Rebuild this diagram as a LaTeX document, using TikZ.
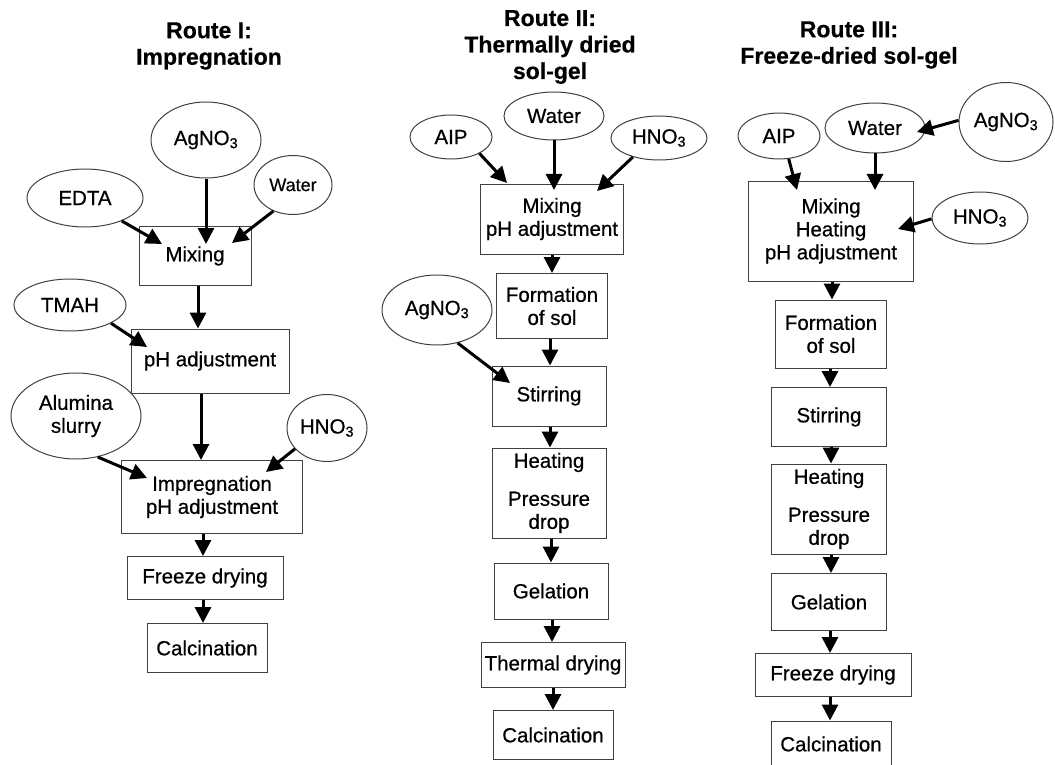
\documentclass[tikz,border=0pt]{standalone}
\usepackage{fontspec}
\setmainfont{Liberation Sans}
\newfontface\nodefont{Liberation Sans}[FakeBold=0.6]
\newfontface\titlefont{Liberation Sans Bold}[FakeBold=0.5]
\usetikzlibrary{arrows.meta,shapes.geometric}
\begin{document}
\begin{tikzpicture}[x=1pt,y=-1pt,
  box/.style={draw=black!75, line width=1pt, rectangle, inner sep=0pt, align=center, font=\nodefont\fontsize{20.5}{23}\selectfont},
  ell/.style={draw=black!75, line width=1pt, ellipse, inner sep=0pt, align=center, font=\nodefont\fontsize{20.5}{23}\selectfont},
  arr/.style={line width=3pt, -{Triangle[length=16pt,width=16pt]}},
  ttl/.style={align=center, font=\titlefont\fontsize{23}{26.5}\selectfont},
]
\useasboundingbox (0,0) rectangle (1055,765);

% Titles
\node[ttl] (t1) at (209,46) {Route I:\\Impregnation};
\node[ttl] (t2) at (550,47) {Route II:\\Thermally dried\\sol-gel};
\node[ttl] (t3) at (849,45) {Route III:\\Freeze-dried sol-gel};

% Route I
\node[ell, minimum width=110, minimum height=76] (ag1) at (206,140) {AgNO\textsubscript{3}};
\node[ell, minimum width=78, minimum height=59, font=\nodefont\fontsize{18}{20}\selectfont] (w1) at (293,185) {Water};
\node[ell, minimum width=116, minimum height=58] (edta) at (85,198) {EDTA};
\node[box, minimum width=112, minimum height=59] (mix1) at (195,256) {Mixing};
\node[ell, minimum width=112, minimum height=52] (tmah) at (70,305) {TMAH};
\node[box, minimum width=158, minimum height=64] (ph1) at (210,361) {pH adjustment};
\node[ell, minimum width=130, minimum height=86] (alu) at (76,416) {Alumina\\slurry};
\node[ell, minimum width=80, minimum height=67] (hn1) at (327,428) {HNO\textsubscript{3}};
\node[box, minimum width=181, minimum height=73] (imp) at (212,497) {Impregnation\\pH adjustment};
\node[box, minimum width=156, minimum height=43] (fd1) at (205,578) {Freeze drying};
\node[box, minimum width=120, minimum height=49] (cal1) at (207,648) {Calcination};

% Route II
\node[ell, minimum width=82, minimum height=44] (aip2) at (451,137) {AIP};
\node[ell, minimum width=100, minimum height=48] (w2) at (554,116) {Water};
\node[ell, minimum width=96, minimum height=44] (hn2) at (659,138) {HNO\textsubscript{3}};
\node[box, minimum width=143, minimum height=70] (mp2) at (552,219) {Mixing\\pH adjustment};
\node[box, minimum width=111, minimum height=65] (fs2) at (552,306) {Formation\\of sol};
\node[ell, minimum width=110, minimum height=70] (ag2) at (437,310) {AgNO\textsubscript{3}};
\node[box, minimum width=114, minimum height=60] (st2) at (549,396) {Stirring};
\node[box, minimum width=114, minimum height=90] (hp2) at (549,493) {Heating\\[15pt]Pressure\\drop};
\node[box, minimum width=114, minimum height=56] (gel2) at (551,591) {Gelation};
\node[box, minimum width=144, minimum height=45] (td2) at (553,665) {Thermal drying};
\node[box, minimum width=120, minimum height=49] (cal2) at (553,735) {Calcination};

% Route III
\node[ell, minimum width=82, minimum height=46] (aip3) at (779,136) {AIP};
\node[ell, minimum width=100, minimum height=50] (w3) at (875,128) {Water};
\node[ell, minimum width=94, minimum height=79] (ag3) at (1006,122) {AgNO\textsubscript{3}};
\node[box, minimum width=165, minimum height=100] (mp3) at (831,231) {Mixing\\Heating\\pH adjustment};
\node[ell, minimum width=96, minimum height=52] (hn3) at (980,218) {HNO\textsubscript{3}};
\node[box, minimum width=111, minimum height=68] (fs3) at (831,334) {Formation\\of sol};
\node[box, minimum width=115, minimum height=59] (st3) at (829,417) {Stirring};
\node[box, minimum width=115, minimum height=90] (hp3) at (829,509) {Heating\\[15pt]Pressure\\drop};
\node[box, minimum width=115, minimum height=57] (gel3) at (829,602) {Gelation};
\node[box, minimum width=156, minimum height=43] (fd3) at (833,675) {Freeze drying};
\node[box, minimum width=120, minimum height=46] (cal3) at (831,744) {Calcination};

% Route I arrows
\draw[arr] (edta.-32) -- ([shift={(-33,-12)}]mix1.center);
\draw[arr] (ag1.south) -- ([shift={(11,-12)}]mix1.center);
\draw[arr] (w1.233) -- ([shift={(37,-13)}]mix1.center);
\draw[arr] (tmah.-24) -- ([shift={(-63,-14)}]ph1.center);
\draw[arr] ([xshift=3]mix1.south) -- ([xshift=3]mix1.south |- ph1.north);
\draw[arr] ([xshift=-9]ph1.south) -- ([xshift=-9]ph1.south |- imp.north);
\draw[arr] (alu.-62) -- ([shift={(-65,-19)}]imp.center);
\draw[arr] (hn1.213) -- ([shift={(54,-25)}]imp.center);
\draw[arr] ([xshift=-2]fd1.north |- imp.south) -- ([xshift=-2]fd1.north);
\draw[arr] ([xshift=-4]cal1.north |- fd1.south) -- ([xshift=-4]cal1.north);

% Route II arrows
\draw[arr] (aip2.-30) -- ([shift={(-45,-36)}]mp2.center);
\draw[arr] (w2.south) -- ([shift={(2,-29)}]mp2.center);
\draw[arr] (hn2.216) -- ([shift={(45,-28)}]mp2.center);
\draw[arr] (mp2.south) -- (mp2.south |- fs2.north);
\draw[arr] ([xshift=1]st2.north |- fs2.south) -- ([xshift=1]st2.north);
\draw[arr] (ag2.-58) -- ([shift={(-39,-13)}]st2.center);
\draw[arr] ([xshift=1]st2.south) -- ([xshift=1]st2.south |- hp2.north);
\draw[arr] ([xshift=2]hp2.south) -- ([xshift=2]hp2.south |- gel2.north);
\draw[arr] ([xshift=1]gel2.south) -- ([xshift=1]gel2.south |- td2.north);
\draw[arr] (td2.south) -- (td2.south |- cal2.north);

% Route III arrows
\draw[arr] (aip3.-67) -- ([shift={(-34,-41)}]mp3.center);
\draw[arr] (w3.south) -- ([shift={(44,-41)}]mp3.center);
\draw[arr] (ag3.178) -- ([shift={(42,4)}]w3.center);
\draw[arr] (hn3.181) -- ([shift={(67,-2)}]mp3.center);
\draw[arr] ([xshift=1]mp3.south) -- ([xshift=1]mp3.south |- fs3.north);
\draw[arr] ([xshift=-1]fs3.south) -- ([xshift=-1]fs3.south |- st3.north);
\draw[arr] ([xshift=2]st3.south) -- ([xshift=2]st3.south |- hp3.north);
\draw[arr] ([xshift=2]hp3.south) -- ([xshift=2]hp3.south |- gel3.north);
\draw[arr] ([xshift=1]gel3.south) -- ([xshift=1]gel3.south |- fd3.north);
\draw[arr] ([xshift=-1]cal3.north |- fd3.south) -- ([xshift=-1]cal3.north);
\end{tikzpicture}
\end{document}
